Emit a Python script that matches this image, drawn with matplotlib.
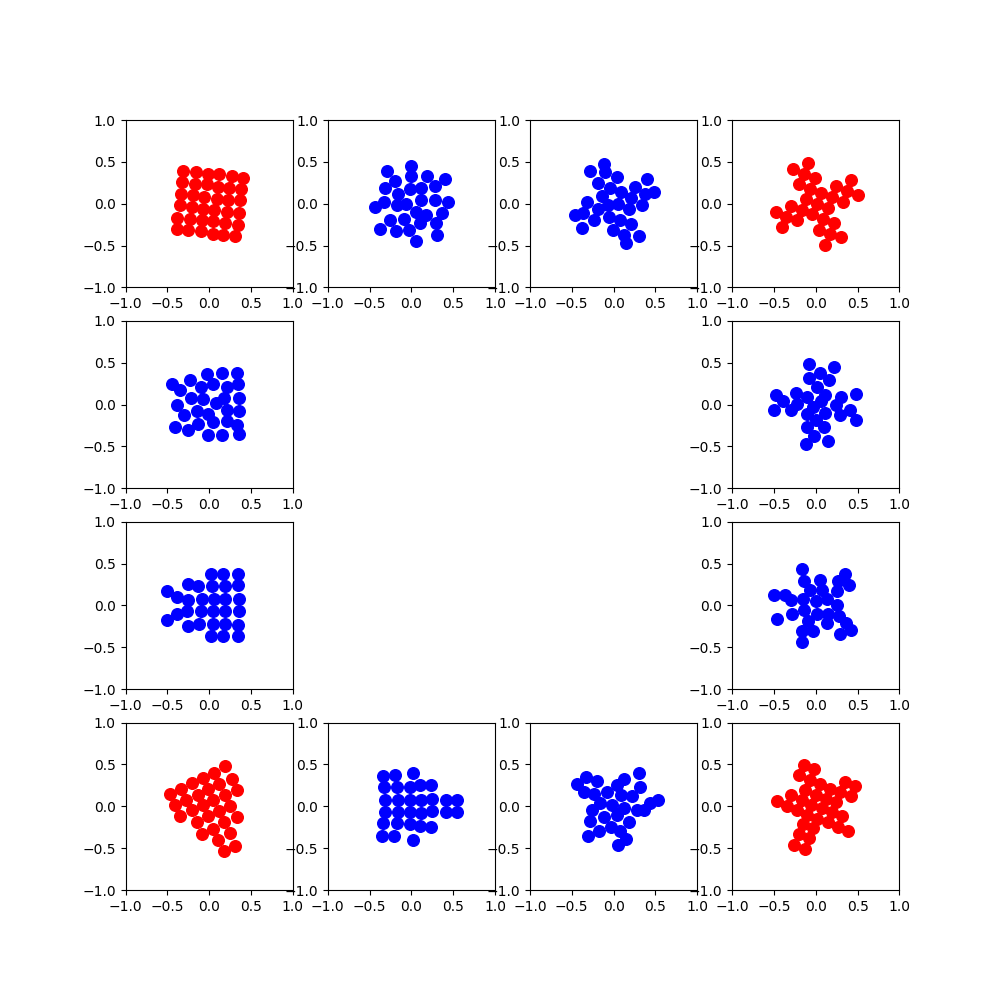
import numpy as np
import matplotlib.pyplot as plt

# grid positions (row, col) of the twelve outer panels, with colour
panel_pos = [(0, 0), (0, 1), (0, 2), (0, 3), (1, 0), (1, 3),
             (2, 0), (2, 3), (3, 0), (3, 1), (3, 2), (3, 3)]
panel_col = ['red', 'blue', 'blue', 'red', 'blue', 'blue',
             'blue', 'blue', 'red', 'blue', 'blue', 'red']

p1_x = [-0.31, -0.16, -0.02, 0.12, 0.27, 0.40, -0.32, -0.17, -0.03, 0.10, 0.24, 0.38,
        -0.34, -0.20, -0.06, 0.09, 0.23, 0.37, -0.35, -0.21, -0.07, 0.06, 0.21, 0.35,
        -0.38, -0.23, -0.09, 0.05, 0.19, 0.34, -0.39, -0.25, -0.10, 0.04, 0.17, 0.31]
p1_y = [0.39, 0.38, 0.36, 0.35, 0.33, 0.31, 0.26, 0.24, 0.23, 0.20, 0.19, 0.17,
        0.12, 0.10, 0.08, 0.06, 0.05, 0.04, -0.02, -0.04, -0.06, -0.07, -0.10, -0.11,
        -0.17, -0.18, -0.20, -0.21, -0.23, -0.25, -0.30, -0.32, -0.33, -0.36, -0.37, -0.39]

p2 = [(-0.29, 0.39), (0.00, 0.45), (0.00, 0.33), (0.19, 0.33), (0.40, 0.29), (-0.20, 0.27),
      (-0.32, 0.19), (-0.02, 0.17), (0.11, 0.19), (0.28, 0.21), (-0.16, 0.12), (-0.33, 0.02),
      (-0.44, -0.04), (-0.17, -0.02), (-0.06, 0.00), (0.12, 0.05), (0.28, 0.04), (0.44, 0.02),
      (0.05, -0.10), (0.18, -0.13), (0.36, -0.11), (-0.26, -0.19), (-0.09, -0.18), (0.10, -0.23),
      (0.29, -0.23), (-0.37, -0.30), (-0.19, -0.33), (-0.03, -0.32), (0.31, -0.37), (0.05, -0.44)]

p3 = [(-0.12, 0.48), (-0.28, 0.39), (-0.10, 0.38), (0.04, 0.32), (0.40, 0.29), (-0.19, 0.25),
      (-0.04, 0.19), (0.25, 0.20), (0.09, 0.14), (0.38, 0.12), (0.48, 0.14), (-0.14, 0.09),
      (0.21, 0.07), (-0.32, 0.02), (-0.07, -0.02), (0.05, 0.00), (0.34, -0.02), (-0.19, -0.06),
      (0.18, -0.06), (-0.46, -0.13), (-0.37, -0.11), (-0.06, -0.16), (-0.23, -0.19), (0.08, -0.19),
      (0.21, -0.24), (-0.38, -0.29), (-0.01, -0.32), (0.12, -0.37), (0.30, -0.39), (0.15, -0.47)]

p4 = [(-0.09, 0.49), (-0.27, 0.41), (-0.14, 0.35), (-0.01, 0.31), (-0.20, 0.23), (-0.07, 0.17),
      (0.42, 0.28), (0.24, 0.21), (0.37, 0.15), (0.50, 0.10), (0.06, 0.13), (0.19, 0.08),
      (-0.12, 0.06), (0.33, 0.02), (0.02, 0.00), (-0.29, -0.03), (0.15, -0.05), (-0.16, -0.08),
      (-0.47, -0.10), (-0.04, -0.12), (-0.35, -0.16), (-0.22, -0.20), (0.09, -0.18), (0.22, -0.23),
      (0.04, -0.31), (0.17, -0.36), (0.30, -0.40), (-0.40, -0.28), (0.11, -0.49)]

p5 = [(-0.03, 0.37), (0.15, 0.38), (0.33, 0.38), (-0.45, 0.24), (-0.23, 0.29), (-0.10, 0.21),
      (0.05, 0.24), (0.21, 0.21), (0.34, 0.25), (-0.35, 0.17), (-0.22, 0.08), (-0.07, 0.07),
      (0.08, 0.02), (0.18, 0.08), (0.36, 0.08), (-0.38, 0.00), (-0.30, -0.12), (-0.15, -0.08),
      (-0.02, -0.11), (0.21, -0.06), (0.36, -0.08), (-0.41, -0.27), (-0.25, -0.30), (-0.14, -0.23),
      (0.05, -0.21), (0.21, -0.20), (0.33, -0.24), (-0.02, -0.36), (0.15, -0.36), (0.36, -0.35)]

p6 = [(-0.08, 0.49), (0.22, 0.45), (0.05, 0.38), (-0.08, 0.32), (0.16, 0.29), (0.02, 0.21),
      (-0.48, 0.11), (-0.24, 0.14), (-0.10, 0.09), (0.11, 0.12), (0.30, 0.09), (0.48, 0.13),
      (-0.39, 0.04), (-0.22, 0.01), (0.06, 0.04), (-0.03, -0.03), (0.24, 0.00), (-0.50, -0.07),
      (-0.30, -0.07), (-0.10, -0.11), (0.11, -0.10), (0.29, -0.12), (0.41, -0.07), (0.48, -0.18),
      (0.00, -0.19), (-0.10, -0.27), (0.10, -0.27), (-0.02, -0.37), (-0.12, -0.47), (0.15, -0.44)]

p7 = [(0.02, 0.37), (0.17, 0.37), (0.34, 0.37), (-0.25, 0.26), (-0.13, 0.23), (0.03, 0.23),
      (0.19, 0.23), (0.34, 0.24), (-0.50, 0.17), (-0.39, 0.10), (-0.25, 0.07), (-0.09, 0.08),
      (0.06, 0.08), (0.19, 0.08), (0.35, 0.08), (-0.39, -0.10), (-0.26, -0.07), (-0.10, -0.07),
      (0.05, -0.07), (0.19, -0.07), (0.35, -0.07), (-0.50, -0.17), (-0.25, -0.25), (-0.12, -0.22),
      (0.04, -0.22), (0.19, -0.22), (0.34, -0.23), (0.02, -0.36), (0.17, -0.36), (0.34, -0.36)]

p8 = [(-0.16, 0.44), (0.35, 0.38), (-0.14, 0.29), (0.05, 0.30), (0.27, 0.29), (0.40, 0.25),
      (-0.07, 0.19), (0.08, 0.19), (0.25, 0.17), (-0.50, 0.13), (-0.37, 0.13), (-0.29, 0.07),
      (-0.15, 0.08), (0.00, 0.05), (0.13, 0.08), (0.25, 0.01), (-0.14, -0.05), (0.02, -0.10),
      (0.15, -0.10), (0.28, -0.13), (-0.28, -0.10), (-0.46, -0.16), (-0.09, -0.18), (0.13, -0.21),
      (0.36, -0.21), (0.42, -0.29), (-0.16, -0.30), (-0.03, -0.31), (0.29, -0.34), (-0.16, -0.44)]

p9 = [(0.19, 0.48), (0.06, 0.40), (0.27, 0.33), (-0.07, 0.34), (-0.21, 0.28), (0.12, 0.27),
      (-0.34, 0.21), (-0.01, 0.21), (0.33, 0.20), (-0.47, 0.15), (-0.14, 0.14), (0.19, 0.14),
      (-0.28, 0.08), (0.05, 0.07), (-0.41, 0.02), (-0.08, 0.01), (0.25, 0.00), (-0.21, -0.05),
      (0.12, -0.06), (-0.35, -0.12), (-0.02, -0.12), (0.33, -0.13), (-0.15, -0.19), (0.18, -0.19),
      (0.05, -0.27), (-0.09, -0.33), (0.25, -0.32), (0.11, -0.40), (0.31, -0.47), (0.18, -0.53)]

p10 = [(-0.34, 0.36), (-0.20, 0.37), (0.02, 0.40), (-0.33, 0.23), (-0.17, 0.23), (-0.02, 0.23),
       (0.10, 0.25), (0.23, 0.26), (-0.31, 0.08), (-0.16, 0.08), (-0.02, 0.08), (0.12, 0.08),
       (0.25, 0.09), (0.41, 0.08), (0.55, 0.08), (-0.31, -0.07), (-0.16, -0.07), (-0.02, -0.07),
       (0.12, -0.08), (0.25, -0.06), (0.41, -0.07), (0.55, -0.07), (-0.34, -0.20), (-0.17, -0.20),
       (-0.02, -0.21), (0.10, -0.24), (0.23, -0.25), (-0.35, -0.35), (-0.21, -0.35), (0.02, -0.40)]

p11 = [(-0.33, 0.35), (-0.44, 0.27), (-0.20, 0.30), (0.30, 0.40), (0.13, 0.33), (0.04, 0.25),
       (0.31, 0.23), (-0.35, 0.17), (-0.23, 0.15), (-0.08, 0.17), (0.09, 0.13), (0.22, 0.12),
       (-0.16, 0.04), (-0.02, 0.02), (0.13, -0.02), (-0.26, -0.04), (0.04, -0.10), (0.28, -0.05),
       (0.36, -0.05), (0.43, 0.04), (0.53, 0.07), (-0.28, -0.18), (-0.12, -0.13), (0.18, -0.19),
       (-0.17, -0.30), (-0.03, -0.25), (0.08, -0.29), (-0.31, -0.36), (0.15, -0.39), (0.05, -0.46)]

p12 = [(-0.14, 0.49), (-0.02, 0.44), (-0.20, 0.37), (-0.07, 0.32), (0.05, 0.27), (0.35, 0.29),
       (0.47, 0.24), (-0.13, 0.20), (0.17, 0.21), (0.29, 0.17), (0.42, 0.12), (-0.29, 0.13),
       (0.00, 0.14), (0.12, 0.09), (-0.46, 0.06), (-0.17, 0.07), (-0.06, 0.02), (0.24, 0.05),
       (-0.34, 0.00), (-0.22, -0.05), (0.08, -0.02), (0.19, -0.07), (-0.10, -0.10), (0.02, -0.15),
       (0.31, -0.12), (0.15, -0.19), (-0.15, -0.21), (-0.03, -0.26), (0.27, -0.25), (0.38, -0.30),
       (-0.20, -0.33), (-0.08, -0.38), (-0.26, -0.46), (-0.13, -0.51)]

panels = [list(zip(p1_x, p1_y)), p2, p3, p4, p5, p6, p7, p8, p9, p10, p11, p12]

fig, axes = plt.subplots(4, 4, figsize=(10, 10))
for ax in axes.flat:
    ax.axis('off')

for (r, c), col, pts in zip(panel_pos, panel_col, panels):
    ax = axes[r, c]
    ax.axis('on')
    pts = np.array(pts)
    ax.scatter(pts[:, 0], pts[:, 1], c=col, s=70)
    ax.set_xlim(-1, 1)
    ax.set_ylim(-1, 1)
    ax.set_aspect('equal')

fig.savefig('out.png', dpi=100)
